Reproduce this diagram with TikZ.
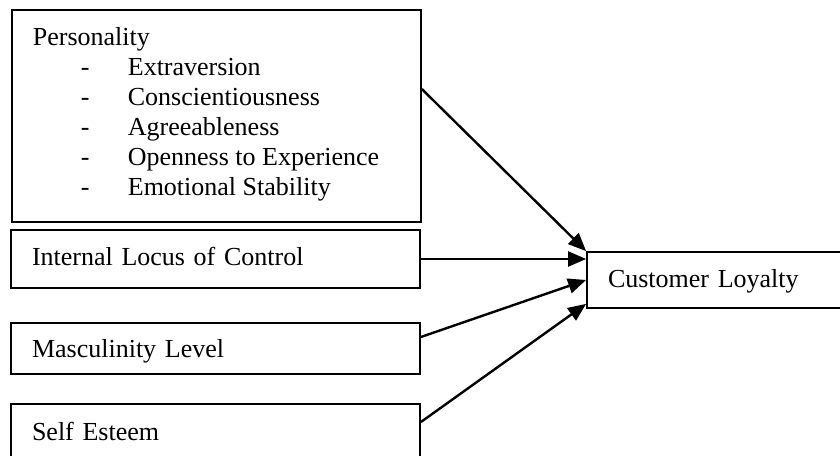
\documentclass[tikz,border=0pt]{standalone}
\usepackage{fontspec}
\setmainfont{Liberation Serif}
\usetikzlibrary{arrows.meta}
\begin{document}
\begin{tikzpicture}[x=1pt,y=-1pt,
  box/.style={draw=black, line width=1.8pt, rectangle, inner sep=0pt,
    font=\fontsize{26}{30}\selectfont},
  onebox/.style={box, minimum height=#1, text height=19pt, text depth=6pt,
    inner xsep=21pt, align=left},
  arr/.style={line width=2.4pt, -{Triangle[length=18pt,width=15pt]}}]
\useasboundingbox (0,0) rectangle (840,455);

\node[box, anchor=north west] (pers) at (11,9) {%
  \begin{minipage}[t][212pt][t]{409pt}\setlength\parindent{0pt}%
  \fontsize{26}{30}\selectfont
  \hspace*{21pt}\rule{0pt}{36pt}Personality\\
  \hspace*{69pt}\makebox[47pt][l]{-}Extraversion\\
  \hspace*{69pt}\makebox[47pt][l]{-}Conscientiousness\\
  \hspace*{69pt}\makebox[47pt][l]{-}Agreeableness\\
  \hspace*{69pt}\makebox[47pt][l]{-}Openness to Experience\\
  \hspace*{69pt}\makebox[47pt][l]{-}Emotional Stability
  \end{minipage}};

\node[onebox=58pt, text width=367pt] (int) at (215.5,259) {Internal Locus of Control};
\node[onebox=51pt, text width=367pt, text depth=2pt] (masc) at (215.5,348.5) {Masculinity Level};
\node[onebox=58pt, text width=367pt, text depth=5pt] (self) at (215.5,433) {Self Esteem};
\node[onebox=56pt, text width=221pt, text depth=5pt] (cust) at (718.5,280) {Customer Loyalty};

\draw[arr] ([yshift=-80pt]pers.north east) -- (cust.north west);
\draw[arr] (int.east) -- (int.east -| cust.west);
\draw[arr] ([yshift=11.5pt]masc.east) -- (cust.west);
\draw[arr] ([yshift=11pt]self.east) -- ([yshift=5pt]cust.south west);
\end{tikzpicture}
\end{document}
